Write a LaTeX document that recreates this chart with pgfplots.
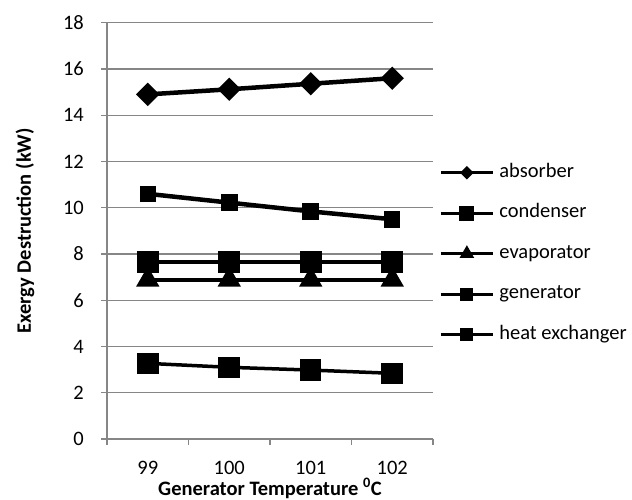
\documentclass[border=0pt]{standalone}
\usepackage{pgfplots}
\pgfplotsset{compat=1.18}
\usepackage{fontspec}
\setmainfont{Carlito}
\definecolor{gridgray}{RGB}{134,134,134}

\begin{document}
\begin{tikzpicture}
\begin{axis}[
  at={(107pt,61pt)}, anchor=south west,
  width=326pt, height=416.3pt, scale only axis,
  xmin=0.5, xmax=4.5, ymin=0, ymax=18,
  xtick={1,2,3,4}, xticklabels={99,100,101,102},
  minor xtick={0.5,1.5,2.5,3.5,4.5},
  ytick={0,2,...,18},
  axis x line*=bottom, axis y line*=left,
  ymajorgrids,
  grid style={gridgray, line width=1.3pt},
  axis line style={gridgray, line width=1.3pt},
  tick style={gridgray, line width=1.3pt},
  every major x tick/.append style={draw=none},
  tick align=outside, major tick length=6pt, minor tick length=6pt,
  font=\fontsize{20.5}{24}\selectfont,
  /pgf/number format/assume math mode=true,
  yticklabel style={anchor=east, inner sep=0pt, xshift=-17pt},
  xticklabel style={anchor=center, inner sep=0pt, yshift=-23pt},
  ylabel={\bfseries Exergy Destruction (kW)},
  xlabel={\bfseries Generator Temperature \textsuperscript{0}C},
  ylabel style={at={(axis description cs:-0.2515,0.5)}, anchor=center},
  xlabel style={at={(axis description cs:0.5,-0.119)}, anchor=center},
  legend style={draw=none, fill=none, at={(axis description cs:1.019,0.445)},
    anchor=west, row sep=22pt, inner sep=0pt,
    nodes={inner sep=0pt, text height=14pt, text depth=4.5pt},
    /tikz/every odd column/.append style={column sep=5pt}},
  legend cell align=left,
  legend image code/.code={\draw[mark repeat=2,mark phase=2,#1]
    plot coordinates {(0pt,0pt)(26pt,0pt)(52pt,0pt)};},
]
% legend keys
\addlegendimage{black, line width=3pt, mark=square*, mark size=3.3pt, mark options={rotate=45}}
\addlegendimage{black, line width=3pt, mark=square*, mark size=6pt}
\addlegendimage{black, line width=3pt, mark=triangle*, mark size=5.5pt}
\addlegendimage{black, line width=3pt, mark=square*, mark size=5pt}
\addlegendimage{black, line width=3pt, mark=square*, mark size=5pt}
\legend{absorber, condenser, evaporator, generator, heat exchanger}

% absorber
\addplot[black, line width=4.5pt, mark=square*, mark size=6pt, mark options={rotate=45}, forget plot]
  coordinates {(1,14.9) (2,15.12) (3,15.36) (4,15.6)};
% condenser
\addplot[black, line width=4pt, mark=square*, mark size=9pt, forget plot]
  coordinates {(1,7.64) (2,7.64) (3,7.64) (4,7.64)};
% evaporator
\addplot[black, line width=3.5pt, mark=triangle*, mark size=10pt, forget plot]
  coordinates {(1,6.88) (2,6.88) (3,6.88) (4,6.88)};
% generator
\addplot[black, line width=4.5pt, mark=square*, mark size=6pt, forget plot]
  coordinates {(1,10.6) (2,10.22) (3,9.84) (4,9.5)};
% heat exchanger
\addplot[black, line width=3.5pt, mark=square*, mark size=9pt, forget plot]
  coordinates {(1,3.27) (2,3.1) (3,2.98) (4,2.84)};
\end{axis}
\pgfresetboundingbox
\path[use as bounding box] (0,0) rectangle (632pt,500pt);
\end{tikzpicture}
\end{document}
